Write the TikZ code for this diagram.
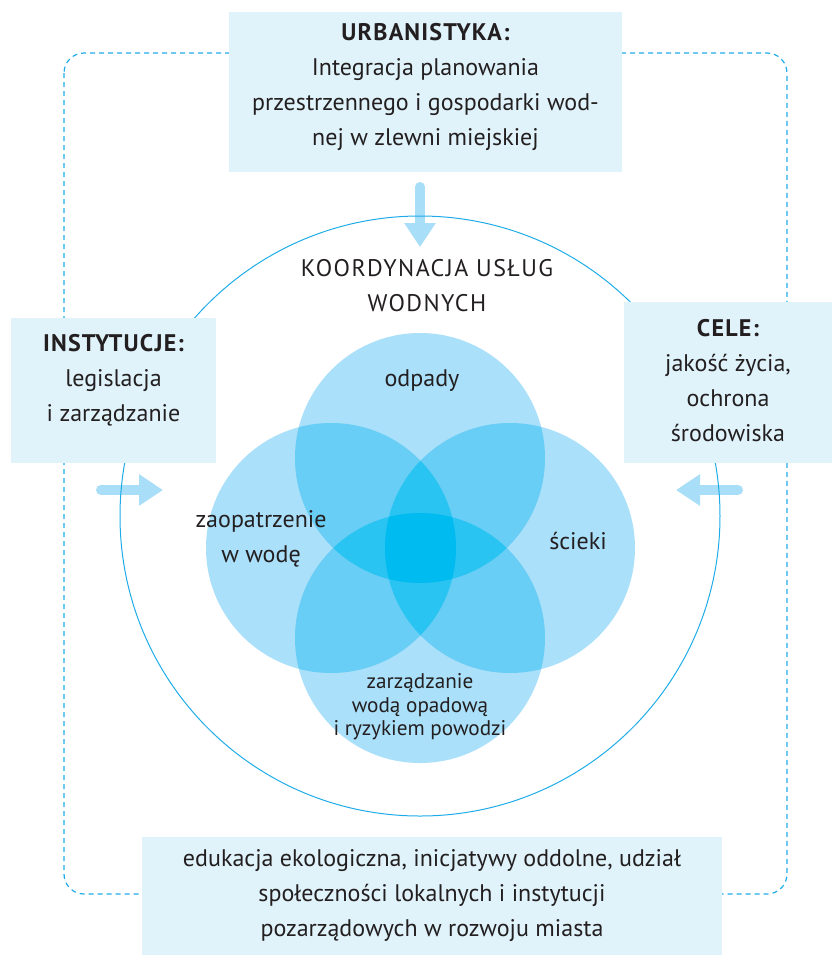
\documentclass[tikz,border=0pt]{standalone}
\usepackage{fontspec}
\setmainfont{PT Sans}
\usepackage{tikz}
\usepackage{xcolor}
\usetikzlibrary{arrows.meta}
\definecolor{boxfill}{RGB}{224,243,251}
\definecolor{frameblue}{RGB}{30,172,232}
\definecolor{arrowblue}{RGB}{168,222,248}
\definecolor{venA}{RGB}{170,224,250}
\definecolor{venB}{RGB}{104,206,245}
\definecolor{venC}{RGB}{41,196,242}
\definecolor{venD}{RGB}{0,187,240}
\definecolor{ink}{RGB}{35,31,32}
\def\venr{62.5pt}
\newcommand{\headtxt}[1]{{\bfseries\addfontfeature{LetterSpace=5}#1}}

\begin{document}
\begin{tikzpicture}[x=0.5pt,y=-0.5pt]
      \useasboundingbox (0,0) rectangle (832,955);
      \tikzset{Box/.style = {fill=boxfill, inner sep=0pt}}
      \tikzset{Txt/.style = {align=center, text=ink, inner sep=0pt, font=\fontsize{12}{17.5}\selectfont}}
      \tikzset{Arr/.style = {draw=arrowblue, line width=5pt, line cap=round, -{Triangle[length=12pt,width=15pt]}}}
      \draw[frameblue, line width=0.6pt, dash pattern=on 2.5pt off 2pt, rounded corners=10pt] (64,53) rectangle (787,894);
      \coordinate (urbOut) at (420,187);
      \coordinate (ringIn) at (420,247);
      \coordinate (instOut) at (101,490);
      \coordinate (instIn) at (163,490);
      \coordinate (goalOut) at (738,490);
      \coordinate (goalIn) at (676,490);
      \draw[Arr] (urbOut) to (ringIn);
      \draw[Arr] (instOut) to (instIn);
      \draw[Arr] (goalOut) to (goalIn);
      \node[draw=frameblue, line width=0.5pt, circle, inner sep=0pt, minimum size=300pt] (ring) at (420,516) {};
      \node[Box, minimum width=196.5pt, minimum height=80pt] (urbBox) at (425.5,92) {};
      \node[Box, minimum width=102.5pt, minimum height=72.5pt] (instBox) at (113.5,390.5) {};
      \node[Box, minimum width=104pt, minimum height=80.5pt] (goalBox) at (728,382.5) {};
      \node[Box, minimum width=290pt, minimum height=59pt] (eduBox) at (432,896) {};
      \coordinate (vTop) at (420,458);
      \coordinate (vLeft) at (331,548);
      \coordinate (vRight) at (510,548);
      \coordinate (vBot) at (420,638);
      \fill[venA] (vTop) circle[radius=\venr] (vLeft) circle[radius=\venr] (vRight) circle[radius=\venr] (vBot) circle[radius=\venr];
      \foreach \a/\b in {vTop/vLeft, vTop/vRight, vTop/vBot, vLeft/vRight, vLeft/vBot, vRight/vBot}{
        \begin{scope}
          \clip (\a) circle[radius=\venr];
          \fill[venB] (\b) circle[radius=\venr];
        \end{scope}
      }
      \foreach \a/\b/\c in {vTop/vLeft/vRight, vTop/vLeft/vBot, vTop/vRight/vBot, vLeft/vRight/vBot}{
        \begin{scope}
          \clip (\a) circle[radius=\venr];
          \clip (\b) circle[radius=\venr];
          \fill[venC] (\c) circle[radius=\venr];
        \end{scope}
      }
      \begin{scope}
        \clip (vTop) circle[radius=\venr];
        \clip (vLeft) circle[radius=\venr];
        \clip (vRight) circle[radius=\venr];
        \fill[venD] (vBot) circle[radius=\venr];
      \end{scope}
      \node[Txt] (urbText) at (425.5,87) {\headtxt{URBANISTYKA:}\\Integracja planowania\\przestrzennego i gospodarki wod-\\nej w zlewni miejskiej};
      \node[Txt] (instText) at (113.5,380) {\headtxt{INSTYTUCJE:}\\legislacja\\i zarządzanie};
      \node[Txt] (goalText) at (728,381) {\headtxt{CELE:}\\jakość życia,\\ochrona\\środowiska};
      \node[Txt] (eduText) at (432,896) {edukacja ekologiczna, inicjatywy oddolne, udział\\społeczności lokalnych i instytucji\\pozarządowych w rozwoju miasta};
      \node[Txt, font=\fontsize{12}{17.5}\selectfont\addfontfeature{LetterSpace=6}] (coordText) at (427,286) {KOORDYNACJA USŁUG\\WODNYCH};
      \node[Txt] (wasteText) at (422,381) {odpady};
      \node[Txt] (supplyText) at (261,539) {zaopatrzenie\\w wodę};
      \node[Txt] (sewageText) at (578,541) {ścieki};
      \node[Txt, font=\fontsize{10.6}{11.75}\selectfont] (rainText) at (420,707) {zarządzanie\\wodą opadową\\i ryzykiem powodzi};
    \end{tikzpicture}
\end{document}
